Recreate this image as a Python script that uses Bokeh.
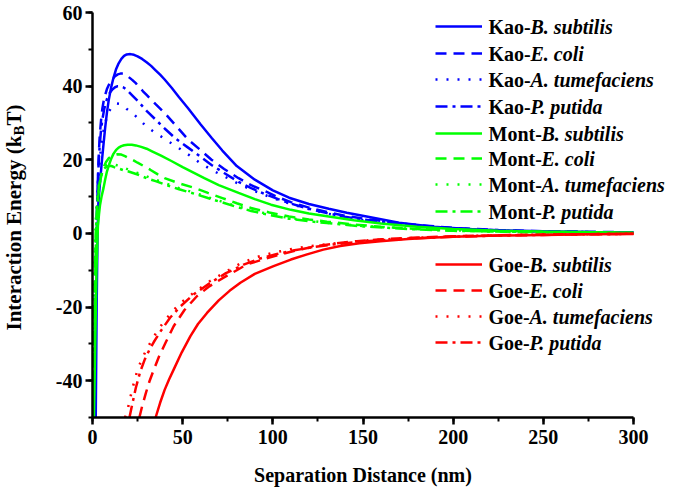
import math

from bokeh.plotting import figure
from bokeh.models import Range1d, SingleIntervalTicker, Legend, LegendItem, Label
from bokeh.embed import file_html
from bokeh.resources import INLINE

# ---- values (x in nm, y in kBT) ----
kao_bs_x = [1.8, 2.3, 2.8, 3.3, 4.2, 5.2, 6.1, 7, 8, 9, 10.3, 11.6, 13, 14.5, 16, 17.5, 19, 21, 23, 25,
            27.5, 30, 32.5, 35, 37.5, 40, 44, 48, 53, 60, 66, 72, 80, 90, 100, 109, 120, 131, 141, 152,
            170, 189, 210, 230, 250, 275, 300]
kao_bs_y = [-50, -20, 0, 8.7, 14, 19.6, 24.2, 28.6, 32.8, 36.2, 39.6, 42.2, 44.5, 46.2, 47.4, 48.2, 48.6,
            48.7, 48.5, 48.1, 47.4, 46.5, 45.5, 44.3, 43.1, 41.8, 39.5, 37, 34, 29.6, 26, 22.5, 18.3,
            14.6, 11.7, 9.7, 8.0, 6.7, 5.6, 4.6, 2.9, 1.8, 1.1, 0.8, 0.6, 0.4, 0.3]

kao_ec_x = [1.2, 1.6, 2, 2.5, 3, 3.5, 4, 4.8, 5.5, 6.5, 8, 9.5, 11, 12.5, 14, 15.5, 17, 18.5, 20, 22, 24,
            26, 28, 30, 35, 40, 46, 53, 60, 66, 73, 81, 88, 96, 103, 110, 120, 130, 140, 150, 175, 200,
            225, 250, 300]
kao_ec_y = [-50, -28, -10, 5, 15, 21.5, 26.5, 31, 34, 36.8, 39.2, 40.8, 41.9, 42.7, 43.2, 43.4, 43.4,
            43.1, 42.5, 41.7, 40.8, 39.7, 38.6, 37.6, 35.1, 32.7, 29.4, 25.5, 22.6, 20, 17.5, 15, 13.1,
            11.4, 9.8, 8.5, 7, 5.8, 4.8, 4, 2.5, 1.5, 0.9, 0.6, 0.3]

kao_at_x = [0.5, 0.8, 1.2, 1.6, 2, 2.5, 3.2, 4, 5, 6, 7.5, 9, 10.5, 12, 13.5, 15, 17, 19, 21, 23, 26, 30,
            34, 39, 44, 49, 55, 60, 67, 75, 82, 90, 100, 110, 120, 130, 140, 150, 175, 200, 225, 250, 300]
kao_at_y = [-50, -35, -20, -10, -1, 8, 14.5, 20, 24.2, 27.6, 30.8, 33, 34.3, 35, 35.3, 35.2, 34.7, 33.8,
            33.1, 32.3, 30.9, 29, 27.6, 26, 24.4, 22.8, 20.8, 19, 17, 15, 13.2, 11.5, 9.6, 8, 6.6, 5.4,
            4.4, 3.6, 2.2, 1.3, 0.8, 0.5, 0.2]

kao_pp_x = [1, 1.4, 1.8, 2.3, 2.8, 3.4, 4, 4.8, 5.5, 6.5, 8, 9.5, 11, 12.5, 14, 15.5, 17, 18.5, 20, 22,
            25, 28, 30, 35, 40, 46, 53, 60, 66, 73, 81, 88, 96, 103, 110, 120, 130, 140, 150, 175, 200,
            225, 250, 300]
kao_pp_y = [-50, -28, -10, 3, 12, 19, 24, 28.4, 31, 33.8, 36.5, 38.1, 39.1, 39.7, 40, 40, 39.7, 39.2,
            38.5, 37.5, 36, 34.4, 33.3, 30.9, 28.5, 25.8, 23.3, 20.8, 18.6, 16.4, 14, 12.3, 10.6, 9.3,
            8.1, 6.7, 5.5, 4.5, 3.8, 2.3, 1.4, 0.8, 0.5, 0.2]

mont_bs_x = [0.8, 1.5, 2.2, 3, 3.6, 4.2, 5.1, 6.1, 7, 8, 9, 10.3, 11.6, 13, 14.5, 16, 17.5, 19.5, 21.8,
             24, 27, 30, 33, 38, 44, 50, 56, 62, 70, 81, 90, 99, 110, 120, 131, 145, 160, 180, 200, 225,
             250, 300]
mont_bs_y = [-50, -30, -10, 2, 5.2, 7.8, 10.2, 12.3, 14.6, 16.8, 18.4, 20.2, 21.6, 22.6, 23.3, 23.7,
             23.95, 24.1, 24.1, 23.9, 23.5, 23, 22.3, 21.1, 19.6, 18, 16.5, 15, 13.1, 11, 9.3, 7.8, 6.4,
             5.4, 4.6, 3.6, 2.7, 1.8, 1.2, 0.7, 0.5, 0.2]

mont_ec_x = [0.6, 1, 1.5, 2, 2.6, 3.3, 4, 5, 6, 7.5, 9, 10.5, 12, 14, 16, 18, 20, 22.5, 25, 28, 32, 36,
             40, 48, 57, 64, 72, 80, 88, 98, 109, 120, 130, 145, 160, 180, 200, 225, 250, 300]
mont_ec_y = [-50, -30, -12, 0, 6.5, 10.5, 13.5, 16, 17.8, 19.4, 20.4, 21, 21.3, 21.5, 21.4, 21, 20.5,
             19.9, 19.2, 18.4, 17.3, 16.1, 15, 13.6, 12.3, 11, 9.6, 8.2, 6.9, 5.7, 4.6, 3.8, 3.2, 2.4,
             1.8, 1.2, 0.8, 0.5, 0.3, 0.1]

mont_at_x = [0.3, 0.8, 1.5, 2, 2.5, 3.2, 4, 5, 6, 7, 8, 9, 10, 11.5, 13, 15, 17.5, 20, 25, 30, 35, 40,
             48, 57, 64, 72, 80, 88, 98, 109, 120, 130, 150, 175, 200, 250, 300]
mont_at_y = [-50, -20, 0, 5.5, 9, 12.3, 14.5, 16.3, 17.5, 18.2, 18.6, 18.8, 18.9, 18.8, 18.6, 18.2,
             17.8, 17.3, 16.4, 15.5, 14.6, 13.7, 12.3, 11, 9.8, 8.6, 7.4, 6.3, 5.2, 4.2, 3.5, 2.9, 2,
             1.3, 0.8, 0.3, 0.1]

mont_pp_x = [0.5, 1, 1.4, 1.8, 2.3, 2.8, 3.5, 4.5, 5.5, 6.5, 7.5, 9, 10.5, 12, 14, 17, 20, 25, 30, 35,
             40, 48, 57, 64, 72, 80, 88, 98, 109, 120, 130, 150, 175, 200, 250, 300]
mont_pp_y = [-50, -20, -8, 0, 5, 9, 12.5, 15, 16.8, 17.6, 18, 18.3, 18.3, 18, 17.7, 17.2, 16.8, 16, 15,
             14.2, 13.3, 12, 10.7, 9.6, 8.4, 7.2, 6.1, 5, 4, 3.3, 2.8, 1.9, 1.2, 0.7, 0.3, 0.1]

goe_bs_x = [35, 37.5, 40, 42.5, 45, 49.5, 54.3, 58.5, 63.5, 70, 76, 82, 90, 100.4, 110, 119, 128, 137.4,
            148, 159.6, 175, 190, 200, 225, 250, 275, 300]
goe_bs_y = [-50, -46, -42.5, -39.6, -37, -32.3, -27.9, -24.6, -21.6, -18.2, -15.6, -13.4, -11, -8.9,
            -7.1, -5.7, -4.4, -3.4, -2.7, -2.1, -1.5, -1.1, -0.9, -0.6, -0.4, -0.25, -0.15]

goe_ec_x = [26, 27.5, 29.5, 31.5, 34, 37, 40.5, 45, 51, 58, 65, 72.7, 80, 85.7, 95, 104, 114, 124.5,
            135, 146.6, 160, 180, 200, 225, 250, 300]
goe_ec_y = [-50, -47, -43.5, -40.3, -37, -33.3, -29.7, -25.2, -20.8, -17, -14.3, -12, -10, -8.4, -7,
            -5.7, -4.5, -3.4, -2.7, -2.1, -1.6, -1.1, -0.8, -0.5, -0.3, -0.1]

goe_at_x = [18, 19.2, 21, 23, 25, 27.5, 30.3, 34, 37.5, 41.4, 48, 56.1, 65, 74.6, 82, 91.2, 100, 109.7,
            120, 130, 140, 155, 175, 200, 225, 250, 300]
goe_at_y = [-50, -48.5, -44.5, -40.5, -37, -34, -31.2, -28, -25.4, -22.9, -19.2, -16.1, -13, -10.2,
            -8.2, -6.4, -5.3, -4.3, -3.5, -2.9, -2.4, -1.8, -1.3, -0.8, -0.5, -0.3, -0.1]

goe_pp_x = [20.5, 22, 24, 26.5, 29, 31.5, 34, 38, 43, 48.8, 56, 65.4, 74, 83.8, 93, 102.3, 112, 122.6,
            135, 150, 175, 200, 225, 250, 300]
goe_pp_y = [-50, -46.5, -42, -37.5, -34.2, -31.7, -29.5, -26.4, -22.9, -19.8, -16.6, -13.4, -10.8,
            -8.5, -6.8, -5.6, -4.6, -3.7, -2.9, -2.2, -1.4, -0.9, -0.6, -0.4, -0.1]

x_ticks_step = 50
y_ticks_step = 20
x_min, x_max = 0, 300
y_min, y_max = -50, 60
y_tick_text = {-40: "-40", -20: "-20"}   # plain hyphen as in the original

BLUE, GREEN, RED = "#0000ff", "#00ff00", "#ff0000"
DASHES = {"solid": "solid", "dash": "11 7", "dot": "2 9", "dashdot": "12 5 3 5"}
FONT = "Liberation Serif"

series = [
    (kao_bs_x, kao_bs_y, BLUE, "solid", "Kao-", "B. subtilis"),
    (kao_ec_x, kao_ec_y, BLUE, "dash", "Kao-", "E. coli"),
    (kao_at_x, kao_at_y, BLUE, "dot", "Kao-", "A. tumefaciens"),
    (kao_pp_x, kao_pp_y, BLUE, "dashdot", "Kao-", "P. putida"),
    (mont_bs_x, mont_bs_y, GREEN, "solid", "Mont-", "B. subtilis"),
    (mont_ec_x, mont_ec_y, GREEN, "dash", "Mont-", "E. coli"),
    (mont_at_x, mont_at_y, GREEN, "dot", "Mont-", "A. tumefaciens"),
    (mont_pp_x, mont_pp_y, GREEN, "dashdot", "Mont-", "P. putida"),
    (goe_bs_x, goe_bs_y, RED, "solid", "Goe-", "B. subtilis"),
    (goe_ec_x, goe_ec_y, RED, "dash", "Goe-", "E. coli"),
    (goe_at_x, goe_at_y, RED, "dot", "Goe-", "A. tumefaciens"),
    (goe_pp_x, goe_pp_y, RED, "dashdot", "Goe-", "P. putida"),
]

# layout (pixels): the frame fills the canvas, axes are pinned at x=0 / y=-50
W, H = 675, 488
ax_left, ax_right, ax_top, ax_bottom = 92, 633, 12, 417
sx = (ax_right - ax_left) / (x_max - x_min)
sy = (ax_bottom - ax_top) / (y_max - y_min)
x_range = Range1d(x_min - ax_left / sx, x_min + (W - ax_left) / sx)
y_range = Range1d(y_min - (H - ax_bottom) / sy, y_max + ax_top / sy)

p = figure(width=W, height=H, output_backend="svg", toolbar_location=None,
           x_range=x_range, y_range=y_range, min_border=0)
p.grid.visible = False
p.outline_line_color = None

p.xaxis.ticker = SingleIntervalTicker(interval=x_ticks_step, num_minor_ticks=2)
p.yaxis.ticker = SingleIntervalTicker(interval=y_ticks_step, num_minor_ticks=2)
p.xaxis.bounds = (x_min, x_max)
p.yaxis.bounds = (y_min, y_max)
p.xaxis.fixed_location = y_min
p.yaxis.fixed_location = x_min
p.yaxis.major_label_overrides = y_tick_text
for ax in (p.xaxis, p.yaxis):
    ax.axis_line_width = 2.5
    ax.axis_line_color = "black"
    ax.major_tick_line_width = 2.5
    ax.minor_tick_line_width = 2
    ax.major_tick_in = 0
    ax.minor_tick_in = 0
    ax.major_tick_out = 7
    ax.minor_tick_out = 4
    ax.major_label_text_font = FONT
    ax.major_label_text_font_style = "bold"
    ax.major_label_text_font_size = "20px"
    ax.major_label_text_color = "black"
p.xaxis.major_label_standoff = 5
p.yaxis.major_label_standoff = 3

renderers = []
for xs, ys, color, dash, _, _ in series:
    r = p.line(xs, ys, line_color=color, line_width=2.5, line_dash=DASHES[dash])
    renderers.append(r)

# hand-built legend: one sample per row, text drawn as two labels (upright + italic)
row_y = [26, 53, 79, 106, 133, 158, 184, 211, 264, 290, 316, 342]   # row centres, from top
prefix_w = {"Kao-": 42, "Mont-": 53, "Goe-": 41}
for r, ry, (_, _, _, _, prefix, species) in zip(renderers, row_y, series):
    fy = H - ry
    leg = Legend(items=[LegendItem(label=" ", renderers=[r])], location=(435, fy - 10),
                 glyph_width=47, glyph_height=20, label_width=0, label_height=20,
                 label_standoff=0, label_text_font_size="1px", padding=0, margin=0,
                 spacing=0, border_line_alpha=0, background_fill_alpha=0)
    p.add_layout(leg)
    p.add_layout(Label(x=488, y=fy, x_units="screen", y_units="screen", text=prefix,
                       text_font=FONT, text_font_style="bold", text_font_size="20px",
                       text_baseline="middle", text_color="black"))
    p.add_layout(Label(x=488 + prefix_w[prefix], y=fy, x_units="screen", y_units="screen",
                       text=species, text_font=FONT, text_font_style="bold italic",
                       text_font_size="20px", text_baseline="middle", text_color="black"))

# axis titles
p.add_layout(Label(x=(ax_left + ax_right) / 2, y=H - 474, x_units="screen", y_units="screen",
                   text="Separation Distance (nm)", text_font=FONT, text_font_style="bold",
                   text_font_size="20px", text_align="center", text_baseline="middle",
                   text_color="black"))
ylab_x, ylab_y0 = 13, H - 330
for txt, dx, dy, size in [("Interaction Energy (k", 0, 0, "21px"),
                          ("B", 5, 195, "15px"),
                          ("T)", 0, 205, "21px")]:
    p.add_layout(Label(x=ylab_x + dx, y=ylab_y0 + dy, x_units="screen", y_units="screen",
                       text=txt, angle=math.pi / 2, text_font=FONT, text_font_style="bold",
                       text_font_size=size, text_baseline="middle", text_color="black"))

open("out.html", "w").write(file_html(p, INLINE))
